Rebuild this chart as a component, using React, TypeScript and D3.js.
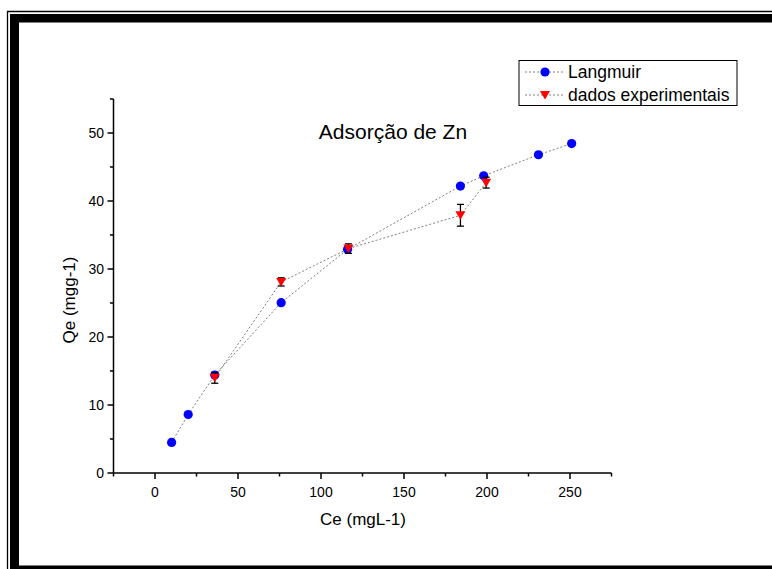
import React from "react";
import * as d3 from "d3";

const langCe = [10, 20, 36, 76, 116, 184, 198, 231, 251];
const langQe = [4.5, 8.6, 14.4, 25.05, 32.9, 42.2, 43.7, 46.8, 48.45];

const expCe = [36, 76, 116.5, 184, 199.5];
const expQe = [14.0, 28.1, 33.0, 37.9, 42.7];
const expErr = [0.8, 0.6, 0.7, 1.6, 0.8];

const xTicks = [0, 50, 100, 150, 200, 250];
const xMinor = [-25, 25, 75, 125, 175, 225, 275];
const yTicks = [0, 10, 20, 30, 40, 50];
const yMinor = [5, 15, 25, 35, 45, 55];

const seriesNames = ["Langmuir", "dados experimentais"];
const titleText = "Adsorção de Zn";
const xTitle = "Ce (mgL-1)";
const yTitle = "Qe (mgg-1)";

const FONT = "'Liberation Sans', Arial, Helvetica, sans-serif";

export default function App() {
  const W = 772, H = 569;
  const x = d3.scaleLinear().domain([-25, 275]).range([113.5, 611.5]);
  const y = d3.scaleLinear().domain([0, 55]).range([473, 99]);

  const line = d3.line<[number, number]>().x((d) => x(d[0])).y((d) => y(d[1]));
  const langPts = langCe.map((c, i) => [c, langQe[i]] as [number, number]);
  const expPts = expCe.map((c, i) => [c, expQe[i]] as [number, number]);
  const tri = "M-5,-4L5,-4L0,4.5Z";
  const dotStyle = { fill: "none", stroke: "#808080", strokeWidth: 1, strokeDasharray: "2,2" };

  return (
    <svg width={W} height={H} style={{ position: "absolute", left: 0, top: 0, background: "#fff" }} fontFamily={FONT}>
      <rect x={0} y={0} width={W} height={H} fill="#fff" />
      {/* frame */}
      <line x1={7.5} y1={11} x2={7.5} y2={H} stroke="#000" strokeWidth={1.3} />
      <line x1={7} y1={11.5} x2={W} y2={11.5} stroke="#000" strokeWidth={1.3} />
      <rect x={10} y={14} width={9} height={H - 14} fill="#000" />
      <rect x={10} y={14} width={W - 10} height={8.5} fill="#000" />
      <rect x={10} y={565.5} width={W - 10} height={4} fill="#000" />

      {/* axes */}
      <line x1={x(-25)} y1={y(0)} x2={x(275)} y2={y(0)} stroke="#000" strokeWidth={1.5} />
      <line x1={x(-25)} y1={y(0)} x2={x(-25)} y2={y(55)} stroke="#000" strokeWidth={1.5} />
      {xTicks.map((t) => (
        <g key={"xt" + t}>
          <line x1={x(t)} x2={x(t)} y1={y(0)} y2={y(0) + 6} stroke="#000" strokeWidth={1.5} />
          <text x={x(t)} y={497} textAnchor="middle" fontSize={14} fill="#000">{t}</text>
        </g>
      ))}
      {xMinor.map((t) => (
        <line key={"xm" + t} x1={x(t)} x2={x(t)} y1={y(0)} y2={y(0) + 3.5} stroke="#000" strokeWidth={1.5} />
      ))}
      {yTicks.map((t) => (
        <g key={"yt" + t}>
          <line x1={x(-25) - 6} x2={x(-25)} y1={y(t)} y2={y(t)} stroke="#000" strokeWidth={1.5} />
          <text x={104} y={y(t) + 5} textAnchor="end" fontSize={14} fill="#000">{t}</text>
        </g>
      ))}
      {yMinor.map((t) => (
        <line key={"ym" + t} x1={x(-25) - 3.5} x2={x(-25)} y1={y(t)} y2={y(t)} stroke="#000" strokeWidth={1.5} />
      ))}

      {/* titles */}
      <text x={393} y={139} textAnchor="middle" fontSize={21} fill="#000">{titleText}</text>
      <text x={363} y={525} textAnchor="middle" fontSize={17} fill="#000">{xTitle}</text>
      <text transform={`translate(75,${300}) rotate(-90)`} textAnchor="middle" fontSize={17} fill="#000">{yTitle}</text>

      {/* lines */}
      <path d={line(langPts) || ""} {...dotStyle} />
      <path d={line(expPts) || ""} {...dotStyle} />

      {/* langmuir points */}
      {langPts.map((p, i) => (
        <circle key={"c" + i} cx={x(p[0])} cy={y(p[1])} r={4.6} fill="#0000ff" />
      ))}

      {/* error bars */}
      {expPts.map((p, i) => {
        const cx = x(p[0]);
        const y1 = y(p[1] + expErr[i]);
        const y2 = y(p[1] - expErr[i]);
        return (
          <g key={"e" + i} stroke="#000" strokeWidth={1.3}>
            <line x1={cx} x2={cx} y1={y1} y2={y2} />
            <line x1={cx - 3.5} x2={cx + 3.5} y1={y1} y2={y1} />
            <line x1={cx - 3.5} x2={cx + 3.5} y1={y2} y2={y2} />
          </g>
        );
      })}
      {expPts.map((p, i) => (
        <path key={"t" + i} d={tri} transform={`translate(${x(p[0])},${y(p[1])})`} fill="#ff0000" />
      ))}

      {/* legend */}
      <rect x={519} y={60.5} width={218} height={45} fill="#fff" stroke="#000" strokeWidth={1} />
      <line x1={525} x2={563} y1={72} y2={72} {...dotStyle} />
      <circle cx={545} cy={72} r={4.6} fill="#0000ff" />
      <text x={568} y={78} fontSize={17.5} fill="#000">{seriesNames[0]}</text>
      <line x1={525} x2={563} y1={95} y2={95} {...dotStyle} />
      <path d={tri} transform="translate(545,95)" fill="#ff0000" />
      <text x={568} y={101} fontSize={17.5} fill="#000">{seriesNames[1]}</text>
    </svg>
  );
}
